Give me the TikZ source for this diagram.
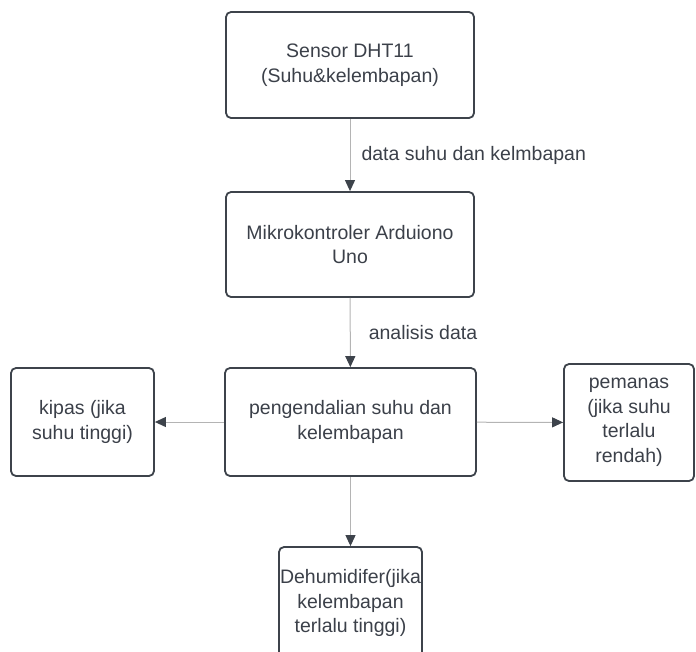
\documentclass[tikz,border=0pt]{standalone}
\usepackage{fontspec}
\setmainfont{Liberation Sans}
\usetikzlibrary{arrows.meta}
\definecolor{boxline}{HTML}{3D434B}
\definecolor{flowline}{HTML}{B4B4B4}
\definecolor{txtgray}{HTML}{3B4049}
\begin{document}
\begin{tikzpicture}[x=1pt, y=-1pt,
    block/.style={draw=boxline, line width=1.8pt, rounded corners=5pt, align=center,
      text=txtgray, font=\fontsize{19.5}{24.5}\selectfont, inner sep=0pt},
    flow/.style={draw=flowline, line width=1pt, -{Triangle[length=11pt,width=10pt,color=boxline]}},
    lbl/.style={text=txtgray, font=\fontsize{19.5}{24.5}\selectfont, inner sep=0pt}]
                \clip (0,0) rectangle (696,651);
%
                \node [block, minimum width=248pt, minimum height=106pt] (sensor) at (350,65) {Sensor DHT11\\(Suhu\&kelembapan)};
                \node [block, minimum width=248pt, minimum height=105pt] (mcu) at (350,244.5) {Mikrokontroler Arduiono\\Uno};
                \node [block, minimum width=251pt, minimum height=108pt] (ctrl) at (350.5,422) {pengendalian suhu dan\\kelembapan};
%
                \node [block, minimum width=143pt, minimum height=108pt] (fan) at (82.5,422) {kipas (jika\\suhu tinggi)};
                \node [block, minimum width=130pt, minimum height=117pt] (heater) at (629,422.5) {pemanas\\(jika suhu\\terlalu\\rendah)};
                \node [block, minimum width=143pt, minimum height=112pt] (dehum) at (350.5,603) {Dehumidifer(jika\\kelembapan\\terlalu tinggi)};
%
                \draw [flow] (sensor) -- node [lbl, right=11pt] {data suhu dan kelmbapan} (mcu);
                \draw [flow] (mcu) -- node [lbl, right=18pt] {analisis data} (ctrl);
                \draw [flow] (ctrl) -- (fan);
                \draw [flow] (ctrl) -- (heater);
                \draw [flow] (ctrl) -- (dehum);
            \end{tikzpicture}
\end{document}
